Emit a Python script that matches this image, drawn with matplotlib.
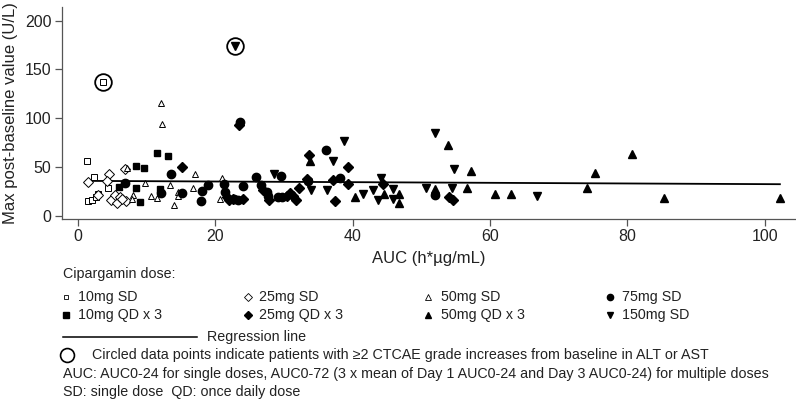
import matplotlib
matplotlib.use("Agg")
import matplotlib.pyplot as plt

plt.rcParams['font.family'] = ['Liberation Sans', 'DejaVu Sans']

# ---- data (AUC, max post-baseline value) ----
sd10_x = [1.3, 2.4, 4.4, 1.5, 2.1, 2.6, 2.9, 3.6]
sd10_y = [56, 40, 28, 15, 16, 19, 22, 137]

sd25_x = [1.5, 4.6, 4.3, 6.9, 4.9, 5.7, 5.4, 6.2, 7.0, 2.9, 6.5]
sd25_y = [34, 43, 35, 47.5, 16, 12.5, 21, 19.5, 14.5, 21, 17]

sd50_x = [12.1, 12.3, 7.2, 9.8, 8.1, 7.9, 10.6, 11.5, 13.4, 14.6, 14.6, 14.0,
          16.7, 17.1, 21.0, 20.7]
sd50_y = [116, 94, 49, 33, 21, 17, 20, 18, 31.5, 24, 20, 11,
          28.5, 42.5, 39, 17.5]

sd75_x = [6.9, 12.1, 13.6, 15.1, 18.0, 18.1, 18.9, 21.3, 21.5, 22.7, 23.3,
          23.6, 24.1, 26.0, 26.7, 27.5, 27.7, 29.2, 29.7, 29.6, 33.5, 36.2,
          38.1, 52.0]
sd75_y = [33, 23.5, 42.5, 23.6, 15, 25.3, 31.5, 32.5, 24.6, 17, 16,
          96.5, 30.5, 39.4, 31.5, 24.6, 20.5, 19.5, 19, 40.5, 35, 67,
          38.5, 21]

qd10_x = [8.4, 9.7, 6.0, 6.9, 8.5, 9.1, 11.5, 13.1, 12.0]
qd10_y = [51, 49, 29, 33, 28, 14, 64.5, 61, 27]

qd25_x = [15.1, 23.5, 21.7, 22.0, 24.0, 27.0, 27.9, 30.4, 30.9, 31.3, 31.8,
          32.2, 33.3, 33.7, 37.2, 37.4, 39.3, 39.4, 44.4, 54.1, 54.6, 22.6]
qd25_y = [49.5, 93, 19, 16, 17.5, 26, 15.5, 20, 23.5, 20, 16,
          28, 38, 62, 36, 15, 49.6, 32.5, 32.5, 19.5, 16, 17]

qd50_x = [33.8, 40.4, 44.6, 46.8, 46.8, 52.0, 53.9, 56.6, 57.2, 60.7, 63.0,
          74.1, 75.3, 80.6, 85.4, 102.2]
qd50_y = [55.5, 19, 22.3, 22.3, 13.3, 27.4, 72.5, 28, 45.8, 22.3, 22.3,
          28, 44, 63.3, 17.8, 18.5]

sd150_x = [22.9, 28.6, 33.9, 36.3, 37.1, 38.8, 41.5, 42.9, 43.7, 44.2, 45.9,
           45.9, 50.7, 52.0, 54.4, 54.7, 66.8]
sd150_y = [174, 42.5, 26.5, 26.4, 56.4, 77, 22.3, 26.4, 16.1, 38.4, 27,
           16.8, 28, 84.5, 28, 47.6, 20.2]

circled_x = [3.6, 22.9]
circled_y = [137, 174]

reg_x = [1.3, 102.2]
reg_y = [35.6, 32.2]

labels = ["10mg SD", "25mg SD", "50mg SD", "75mg SD",
          "10mg QD x 3", "25mg QD x 3", "50mg QD x 3", "150mg SD"]

xticks = [0, 20, 40, 60, 80, 100]
yticks = [0, 50, 100, 150, 200]

W, H = 796, 401
fig = plt.figure(figsize=(W / 100, H / 100), dpi=100)
ax = fig.add_axes([62 / W, 1 - 219 / H, (795 - 62) / W, (219 - 7) / H])

k = "black"
ax.plot(reg_x, reg_y, color=k, lw=1.3, zorder=1)
ax.plot(sd10_x, sd10_y, ls="none", marker="s", ms=4.5, mfc="white", mec=k, mew=0.7)
ax.plot(sd25_x, sd25_y, ls="none", marker="D", ms=4.8, mfc="white", mec=k, mew=0.7)
ax.plot(sd50_x, sd50_y, ls="none", marker="^", ms=5, mfc="white", mec=k, mew=0.7)
ax.plot(sd75_x, sd75_y, ls="none", marker="o", ms=6, color=k)
ax.plot(qd10_x, qd10_y, ls="none", marker="s", ms=5, color=k)
ax.plot(qd25_x, qd25_y, ls="none", marker="D", ms=5, color=k)
ax.plot(qd50_x, qd50_y, ls="none", marker="^", ms=6, color=k)
ax.plot(sd150_x, sd150_y, ls="none", marker="v", ms=5.8, color=k)
ax.plot(circled_x, circled_y, ls="none", marker="o", ms=12, mfc="none", mec=k, mew=1.3)

ax.set_xlim(-2.3, 104.4)
ax.set_ylim(-3.5, 214)
ax.set_xticks(xticks)
ax.set_yticks(yticks)
for s in ["top", "right"]:
    ax.spines[s].set_visible(False)
for s in ["left", "bottom"]:
    ax.spines[s].set_color("#555555")
    ax.spines[s].set_linewidth(0.9)
ax.tick_params(colors="#555555", labelcolor="#222222", labelsize=11.5,
               length=5, width=0.9, pad=2.5)
ax.set_xlabel("AUC (h*µg/mL)", fontsize=12, color="#222222", labelpad=5)
ax.set_ylabel("Max post-baseline value (U/L)", fontsize=12, color="#222222",
              labelpad=5)

# legend / footnote area in pixel coordinates
lg = fig.add_axes([0, 0, 1, 1])
lg.set_xlim(0, W)
lg.set_ylim(H, 0)
lg.axis("off")
fs = 10.3
tc = "#222222"
lg.text(63, 274, "Cipargamin dose:", fontsize=fs, color=tc, va="center")

mk = [dict(marker="s", ms=3.5, mfc="white", mec=k, mew=0.6),
      dict(marker="D", ms=3.8, mfc="white", mec=k, mew=0.6),
      dict(marker="^", ms=4, mfc="white", mec=k, mew=0.6),
      dict(marker="o", ms=4.5, color=k),
      dict(marker="s", ms=4, color=k),
      dict(marker="D", ms=4, color=k),
      dict(marker="^", ms=4.5, color=k),
      dict(marker="v", ms=5, color=k)]
col_m = [66, 248, 428, 610]
col_t = [78, 259, 441, 622]
row_y = [297, 315]
for i, lab in enumerate(labels):
    r, c = divmod(i, 4)
    lg.plot([col_m[c]], [row_y[r]], ls="none", **mk[i])
    lg.text(col_t[c], row_y[r], lab, fontsize=fs, color=tc, va="center")

lg.plot([63, 197], [337, 337], color=k, lw=1.1)
lg.text(207, 337, "Regression line", fontsize=fs, color=tc, va="center")
lg.plot([67], [355], ls="none", marker="o", ms=10, mfc="none", mec=k, mew=1.2)
lg.text(92, 355, "Circled data points indicate patients with ≥2 CTCAE grade "
        "increases from baseline in ALT or AST", fontsize=fs, color=tc, va="center")
lg.text(63, 374, "AUC: AUC0-24 for single doses, AUC0-72 (3 x mean of Day 1 "
        "AUC0-24 and Day 3 AUC0-24) for multiple doses", fontsize=fs, color=tc,
        va="center")
lg.text(63, 392, "SD: single dose  QD: once daily dose", fontsize=fs, color=tc,
        va="center")

fig.savefig("out.png", dpi=100)
